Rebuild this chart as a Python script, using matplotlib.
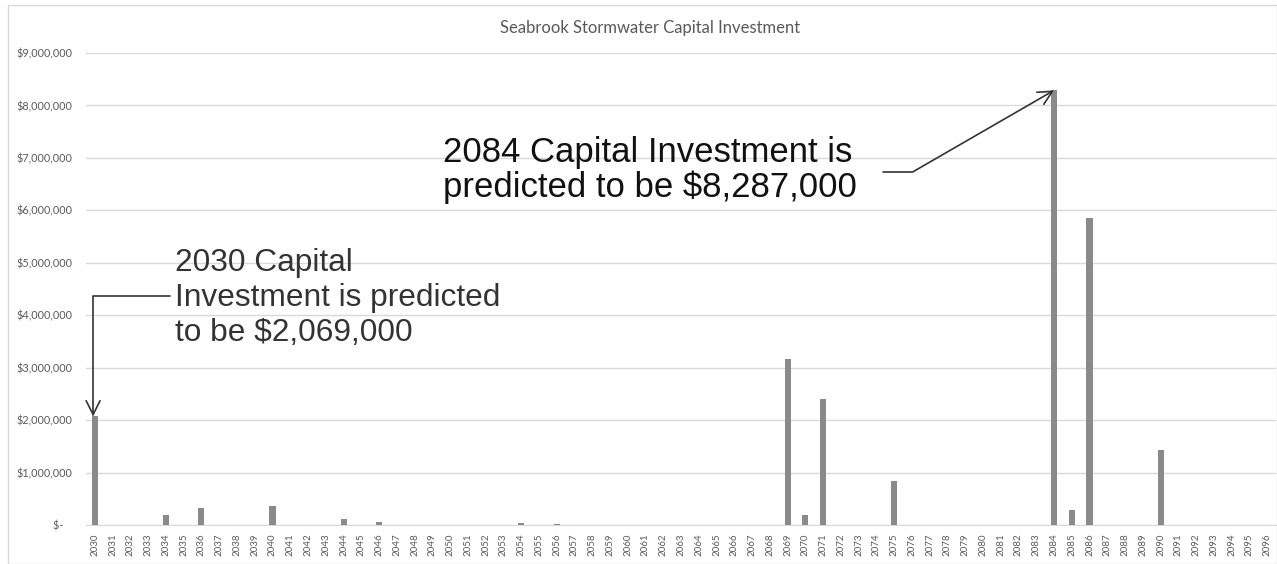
import matplotlib
matplotlib.use("Agg")
import matplotlib.pyplot as plt
from matplotlib.patches import Rectangle
from matplotlib.ticker import FuncFormatter

years = list(range(2030, 2097))
year_labels = [str(y) for y in years]
invest_known = {
    2030: 2069000, 2034: 200000, 2036: 330000, 2040: 360000, 2044: 110000,
    2046: 50000, 2054: 45000, 2056: 15000, 2069: 3170000, 2070: 190000,
    2071: 2400000, 2075: 840000, 2084: 8287000, 2085: 290000, 2086: 5860000,
    2090: 1430000,
}
values = [invest_known.get(y, 0) for y in years]
title = "Seabrook Stormwater Capital Investment"
note_2030 = "2030 Capital\nInvestment is predicted\nto be $2,069,000"
note_2084 = "2084 Capital Investment is\npredicted to be $8,287,000"

W, H = 1277, 564
fig = plt.figure(figsize=(W / 100, H / 100), dpi=100)
fig.patch.set_facecolor("white")
# outer chart border
fig.patches.append(Rectangle((8 / W, 0), (W - 8) / W, (H - 5) / H, transform=fig.transFigure,
                             fill=False, edgecolor="#d9d9d9", lw=1.0))

ax = fig.add_axes([86 / W, (H - 525) / H, (1276 - 86) / W, (525 - 53) / H])
x = list(range(len(years)))
ax.bar(x, values, width=0.34, color="#8a8a8a", zorder=3)
ax.set_xlim(-0.5, len(years) - 0.5)
ax.set_ylim(0, 9000000)
ax.set_yticks(range(0, 9000001, 1000000))


def fmt(v, pos):
    if v == 0:
        return "$-   "
    return "${:,.0f}".format(v)


ax.yaxis.set_major_formatter(FuncFormatter(fmt))
ax.set_xticks(x)
ax.set_xticklabels(year_labels, rotation=90, fontsize=7, color="#595959", family="Lato")
for lbl in ax.get_yticklabels():
    lbl.set_family("Lato")
ax.tick_params(axis="y", length=0, pad=10, labelsize=7.8, labelcolor="#595959")
ax.tick_params(axis="x", length=0, pad=6)
ax.grid(axis="y", color="#d9d9d9", lw=1.0, zorder=0)
for s in ["top", "right", "left"]:
    ax.spines[s].set_visible(False)
ax.spines["bottom"].set_color("#d9d9d9")

fig.text(650 / W, (H - 28) / H, title, ha="center", va="center", fontsize=12,
         color="#595959", family="Lato")

# 2030 annotation
fig.text(175 / W, (H - 298) / H, note_2030, ha="left", va="center", fontsize=22.8,
         color="#333333", family="Liberation Sans", linespacing=1.2)
i30 = years.index(2030)
ax.annotate("", xy=(i30 - 0.1, values[i30]), xycoords="data",
            xytext=(170 / W, (H - 296) / H), textcoords="figure fraction",
            arrowprops=dict(arrowstyle="->,head_length=0.5,head_width=0.25", color="#333333",
                            lw=1.2, mutation_scale=20, shrinkA=0, shrinkB=0,
                            connectionstyle="angle,angleA=0,angleB=90,rad=0"), zorder=5)

# 2084 annotation
fig.text(443 / W, (H - 170) / H, note_2084, ha="left", va="center", fontsize=25,
         color="#111111", family="Liberation Sans", linespacing=1.09)
i84 = years.index(2084)
ax.annotate("", xy=(i84, values[i84]), xycoords="data",
            xytext=(883 / W, (H - 172) / H), textcoords="figure fraction",
            arrowprops=dict(arrowstyle="->,head_length=0.5,head_width=0.25", color="#333333",
                            lw=1.2, mutation_scale=20, shrinkA=0, shrinkB=0,
                            connectionstyle="angle,angleA=0,angleB=30,rad=0"), zorder=5)

fig.savefig("out.png", dpi=100)
